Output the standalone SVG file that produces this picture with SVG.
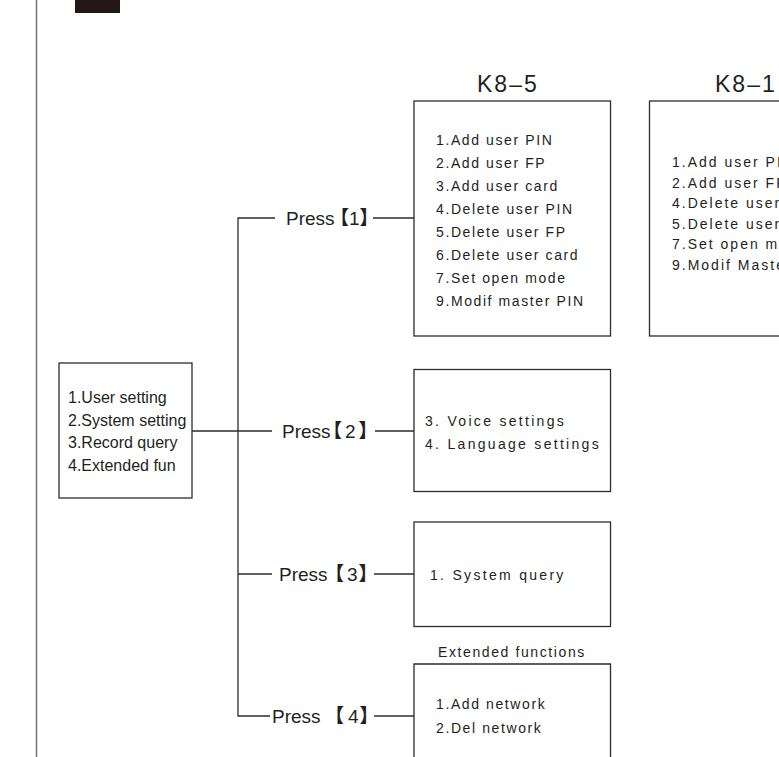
<svg xmlns="http://www.w3.org/2000/svg" width="779" height="757" viewBox="0 0 779 757">
<style>
.box{fill:none;stroke:#2f2b2c;stroke-width:1.3}
.ln{fill:none;stroke:#2f2b2c;stroke-width:1.3}
.t{font-family:"Liberation Sans",Arial,sans-serif;fill:#231f20}
.m{font-size:14px;letter-spacing:1.6px}
.w{font-size:14px;letter-spacing:2.3px}
.s{font-size:16px}
.p{font-size:19px}
.br{font-family:"Noto Sans CJK SC","Noto Sans CJK JP",sans-serif;font-size:19px;font-weight:bold;font-feature-settings:"palt"}
.h{font-size:23px;letter-spacing:2px}
</style>
<rect width="779" height="757" fill="#fff"/>
<line x1="36.5" y1="0" x2="36.5" y2="757" stroke="#767071" stroke-width="1.5"/>
<rect x="75" y="0" width="45" height="13" fill="#231815"/>
<g id="connectors">
<polyline class="ln" points="275,218 238,218 238,716 270,716"/>
<line class="ln" x1="373" y1="218" x2="414" y2="218"/>
<line class="ln" x1="192" y1="431" x2="272" y2="431"/>
<line class="ln" x1="375" y1="431" x2="414" y2="431"/>
<line class="ln" x1="238" y1="574" x2="272" y2="574"/>
<line class="ln" x1="374" y1="574" x2="414" y2="574"/>
<line class="ln" x1="374" y1="716" x2="414" y2="716"/>
</g>
<g id="main-menu">
<rect class="box" x="59" y="363" width="133" height="135"/>
<text class="t s" x="68" y="403">1.User setting</text>
<text class="t s" x="68" y="426">2.System setting</text>
<text class="t s" x="68" y="448">3.Record query</text>
<text class="t s" x="68" y="471">4.Extended fun</text>
</g>
<g id="press1"><text class="t p" y="225"><tspan x="286">Press</tspan><tspan class="br" x="339">【</tspan><tspan x="349">1</tspan><tspan class="br" x="360">】</tspan></text></g>
<g id="press2"><text class="t p" y="438"><tspan x="282">Press</tspan><tspan class="br" x="332">【</tspan><tspan x="345">2</tspan><tspan class="br" x="359">】</tspan></text></g>
<g id="press3"><text class="t p" y="581"><tspan x="279">Press</tspan><tspan class="br" x="334">【</tspan><tspan x="347">3</tspan><tspan class="br" x="359">】</tspan></text></g>
<g id="press4"><text class="t p" y="723"><tspan x="272">Press</tspan><tspan class="br" x="334">【</tspan><tspan x="348">4</tspan><tspan class="br" x="360">】</tspan></text></g>
<g id="k8-5">
<text class="t h" x="477" y="92">K8–5</text>
<rect class="box" x="414" y="101" width="196.5" height="235"/>
<text class="t m" x="436" y="145">1.Add user PIN</text>
<text class="t m" x="436" y="168">2.Add user FP</text>
<text class="t m" x="436" y="191">3.Add user card</text>
<text class="t m" x="436" y="214">4.Delete user PIN</text>
<text class="t m" x="436" y="237">5.Delete user FP</text>
<text class="t m" x="436" y="260">6.Delete user card</text>
<text class="t m" x="436" y="283">7.Set open mode</text>
<text class="t m" x="436" y="306">9.Modif master PIN</text>
</g>
<g id="k8-1">
<text class="t h" x="715" y="92">K8–1</text>
<rect class="box" x="649.5" y="101" width="140" height="235"/>
<text class="t m" x="672" y="167" style="letter-spacing:2px">1.Add user PIN</text>
<text class="t m" x="672" y="188" style="letter-spacing:2px">2.Add user FP</text>
<text class="t m" x="672" y="208" style="letter-spacing:2px">4.Delete user PIN</text>
<text class="t m" x="672" y="229" style="letter-spacing:2px">5.Delete user FP</text>
<text class="t m" x="672" y="249" style="letter-spacing:2px">7.Set open mode</text>
<text class="t m" x="672" y="270" style="letter-spacing:2px">9.Modif Master PIN</text>
</g>
<g id="system-setting">
<rect class="box" x="414" y="369.5" width="196.5" height="122"/>
<text class="t w" x="425" y="426">3. Voice settings</text>
<text class="t w" x="425" y="449">4. Language settings</text>
</g>
<g id="record-query">
<rect class="box" x="414" y="522" width="196.5" height="104.5"/>
<text class="t w" x="430" y="580">1. System query</text>
</g>
<g id="extended">
<text class="t m" x="438" y="657">Extended functions</text>
<polyline class="box" points="414,760 414,664 610.5,664 610.5,760"/>
<text class="t m" x="436" y="709">1.Add network</text>
<text class="t m" x="436" y="733">2.Del network</text>
</g>
</svg>
